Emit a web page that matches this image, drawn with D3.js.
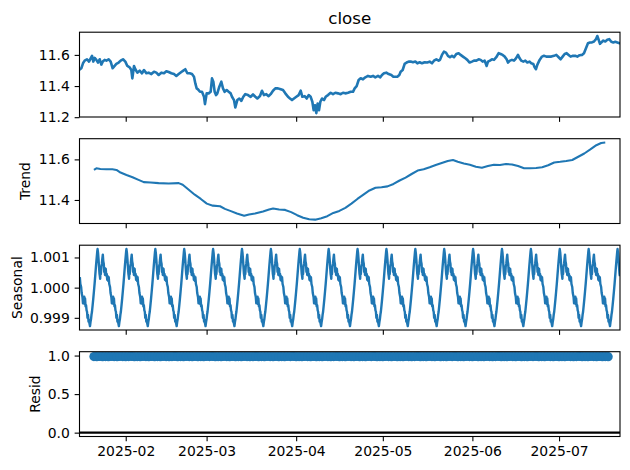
<!DOCTYPE html>
<html><head><meta charset="utf-8">
<script src="https://cdn.jsdelivr.net/npm/d3@7"></script>
<style>body{margin:0;background:#fff}svg{display:block}text{font-family:"DejaVu Sans",sans-serif;fill:#000}</style>
</head><body><svg id="c" width="630" height="470"></svg>
<script>
// ---- data ----
const startDate = "2025-01-16T00:00:00Z";
const endDay = 187.1;
const closeDays = [0,0.63,1.21,1.79,2.60,3.29,3.87,4.33,4.79,5.25,5.83,6.40,6.98,7.56,8.13,8.71,9.29,10.10,10.79,11.48,11.94,12.75,13.56,14.25,15.06,15.87,16.56,17.37,17.94,18.29,18.87,19.33,20.02,20.83,21.63,22.33,23.13,23.94,24.87,25.79,26.60,27.40,28.33,29.25,30.06,30.87,31.79,32.71,33.52,34.33,35.25,35.94,36.63,37.33,38.13,38.94,39.63,40.10,40.56,41.02,41.71,42.40,43.10,43.44,44.02,44.71,45.40,45.87,46.33,46.79,47.25,47.71,48.40,49.10,49.67,50.25,50.94,51.63,52.33,52.79,53.48,53.94,54.63,55.33,56.02,56.71,57.40,58.33,59.25,60.06,60.87,61.56,62.48,
63.17,63.87,64.67,65.48,66.17,66.98,67.79,68.71,69.64,70.44,71.25,72.17,72.87,73.56,74.25,75.06,75.87,76.56,77.14,77.94,78.64,79.33,80.02,80.60,81.06,81.52,81.98,82.44,82.90,83.37,83.94,84.64,85.21,86.02,86.94,87.75,88.56,89.48,90.40,91.21,92.02,92.94,93.87,94.67,95.25,95.94,96.63,97.33,98.13,98.94,99.87,100.79,101.60,102.40,103.33,104.13,104.71,105.40,106.21,107.02,107.94,108.64,109.33,110.02,110.71,111.17,111.87,112.56,113.25,113.94,114.64,115.44,116.25,116.94,117.75,118.56,119.48,120.40,121.21,122.02,122.71,123.52,124.33,124.79,
125.47,126.17,126.86,127.55,128.24,128.94,129.63,130.44,131.24,131.94,132.74,133.55,134.24,135.05,135.86,136.55,137.36,138.17,138.86,139.55,140.24,140.94,141.40,142.09,142.78,143.47,144.28,145.09,145.78,146.47,147.17,147.86,148.32,149.01,149.70,150.40,151.09,151.78,152.36,152.94,153.63,154.32,155.01,155.82,156.40,157.09,157.55,158.01,158.47,159.28,160.09,160.78,161.59,162.40,163.32,164.24,165.05,165.86,166.55,167.24,167.94,168.63,169.32,170.01,170.82,171.63,172.32,173.13,173.94,174.63,175.32,176.01,176.71,177.40,178.09,178.78,179.24,179.71,180.17,180.63,181.32,182.01,182.71,183.40,184.09,184.78,185.47,186.17,186.98,187.10];
const closeValues = [11.505,11.514,11.546,11.563,11.572,11.557,11.578,11.594,11.557,11.581,11.568,11.551,11.572,11.538,11.559,11.568,11.563,11.572,11.557,11.514,11.525,11.542,11.551,11.563,11.572,11.557,11.529,11.520,11.503,11.449,11.529,11.508,11.486,11.499,11.482,11.503,11.482,11.486,11.477,11.492,11.486,11.471,11.486,11.482,11.495,11.490,11.482,11.477,11.465,11.477,11.490,11.499,11.508,11.482,11.482,11.477,11.460,11.417,11.385,11.379,11.363,11.363,11.331,11.284,11.353,11.353,11.363,11.449,11.428,11.363,11.342,11.353,11.396,11.428,11.385,11.363,11.374,11.363,11.353,11.331,11.310,11.262,11.310,11.320,11.305,11.331,11.348,11.342,11.331,11.346,11.331,11.320,11.336,
11.370,11.342,11.348,11.335,11.348,11.370,11.385,11.385,11.379,11.374,11.353,11.331,11.320,11.310,11.320,11.331,11.342,11.370,11.331,11.335,11.320,11.342,11.331,11.299,11.245,11.277,11.226,11.288,11.245,11.299,11.320,11.310,11.331,11.342,11.357,11.348,11.357,11.353,11.348,11.357,11.353,11.357,11.363,11.363,11.385,11.400,11.439,11.450,11.443,11.456,11.465,11.460,11.465,11.456,11.465,11.456,11.471,11.482,11.486,11.477,11.471,11.460,11.460,11.460,11.471,11.492,11.503,11.542,11.551,11.557,11.557,11.553,11.557,11.546,11.553,11.546,11.553,11.551,11.557,11.546,11.563,11.572,11.563,11.568,
11.600,11.621,11.615,11.594,11.585,11.594,11.585,11.606,11.611,11.600,11.589,11.578,11.568,11.551,11.557,11.563,11.563,11.572,11.568,11.557,11.563,11.529,11.557,11.563,11.572,11.568,11.585,11.611,11.606,11.600,11.589,11.572,11.551,11.563,11.568,11.563,11.578,11.600,11.578,11.563,11.557,11.563,11.551,11.557,11.546,11.542,11.520,11.508,11.536,11.568,11.589,11.594,11.589,11.589,11.589,11.594,11.600,11.585,11.572,11.589,11.606,11.611,11.600,11.589,11.594,11.594,11.589,11.598,11.600,11.611,11.643,11.675,11.680,11.680,11.686,11.701,11.721,11.697,11.671,11.680,11.692,11.686,11.697,11.701,11.684,11.680,11.684,11.680,11.675,11.676];

const trendDays = [5.0,5.85,7.24,9.32,11.40,12.80,14.19,16.27,18.36,20.44,22.25,24.61,27.39,30.87,34.34,35.73,37.82,39.90,41.99,44.07,46.16,48.66,50.33,52.41,54.50,57.00,58.67,60.75,63.53,65.62,67.01,69.09,71.18,73.26,75.35,77.43,79.52,81.60,83.69,85.78,87.86,89.95,92.03,94.12,96.20,98.29,100.37,102.46,104.54,106.63,108.71,110.80,112.88,114.97,117.05,119.14,121.22,123.31,125.39,127.48,129.28,130.95,133.04,135.12,137.21,139.29,141.38,143.46,145.55,147.63,149.72,151.81,153.89,155.98,158.06,160.15,162.23,164.32,166.40,168.49,170.57,172.66,174.74,176.83,178.91,180.58,182.0];
const trendValues = [11.548,11.556,11.553,11.551,11.551,11.548,11.535,11.523,11.512,11.499,11.488,11.486,11.483,11.481,11.483,11.475,11.450,11.426,11.405,11.382,11.372,11.369,11.356,11.345,11.333,11.322,11.328,11.333,11.343,11.353,11.358,11.353,11.351,11.340,11.325,11.312,11.305,11.303,11.310,11.320,11.336,11.346,11.361,11.382,11.405,11.426,11.447,11.460,11.463,11.467,11.479,11.496,11.510,11.528,11.545,11.551,11.561,11.572,11.582,11.592,11.597,11.588,11.580,11.574,11.564,11.559,11.567,11.574,11.572,11.577,11.575,11.567,11.556,11.556,11.558,11.561,11.571,11.585,11.588,11.592,11.597,11.613,11.629,11.649,11.670,11.681,11.683];

// one seasonal cycle (days after the main peak) — the component repeats every period
const seasonalPeriod = 10;
const seasonalFirstPeak = 6.25;
const seasonalCycleOffsets = [0,0.17,0.34,0.50,0.68,0.80,0.91,1.02,1.14,1.30,1.48,1.65,1.82,1.98,2.16,2.30,2.42,2.58,2.72,2.84,3.00,3.18,3.35,3.52,3.68,3.86,4.05,4.32,4.50,4.77,4.95,5.10,5.23,5.40,5.55,5.68,5.85,6.02,6.20,6.36,6.52,6.70,6.88,7.05,7.22,7.39,7.56,7.73,7.90,8.07,8.30,8.52,8.75,8.98,9.20,9.43,9.60,9.77,9.90];
const seasonalCycleValues = [1.001279,1.001150,1.000950,1.000700,1.000458,1.000380,1.000294,1.000560,1.000450,1.000700,1.000786,1.000950,1.001092,1.000880,1.000786,1.000520,1.000650,1.000420,1.000600,1.000622,1.000400,1.000458,1.000260,1.000380,1.000220,1.000349,1.000120,1.000021,0.999820,0.999693,0.999480,0.999620,0.999529,0.999700,0.999450,0.999638,0.999380,0.999420,0.999250,0.999201,0.999000,0.999092,0.998870,0.998928,0.998800,0.998724,0.998860,0.998950,0.999100,0.999201,0.999420,0.999638,0.999880,1.000130,1.000400,1.000677,1.000880,1.001059,1.001200];

const residStartDay = 5;
const residValues = [0.987,0.985,0.988,0.986,0.987,0.985,0.988,0.987,0.986,0.988,
0.987,0.985,0.987,0.989,0.986,0.987,0.985,0.988,0.987,0.986,
0.988,0.985,0.987,0.986,0.988,0.987,0.985,0.987,0.989,0.986,
0.987,0.985,0.988,0.987,0.986,0.988,0.985,0.987,0.986,0.988,
0.987,0.989,0.986,0.987,0.985,0.988,0.987,0.986,0.988,0.985,
0.987,0.986,0.988,0.987,0.985,0.987,0.989,0.986,0.987,0.985,
0.988,0.987,0.986,0.988,0.985,0.987,0.986,0.988,0.987,0.989,
0.986,0.987,0.985,0.988,0.987,0.986,0.988,0.985,0.987,0.986,
0.988,0.987,0.985,0.987,0.989,0.986,0.987,0.985,0.988,0.987,
0.986,0.988,0.985,0.987,0.986,0.988,0.987,0.989,0.986,0.987,
0.985,0.988,0.987,0.986,0.988,0.985,0.987,0.986,0.988,0.987,
0.985,0.987,0.989,0.986,0.987,0.985,0.988,0.987,0.986,0.988,
0.985,0.987,0.986,0.988,0.987,0.989,0.986,0.987,0.985,0.988,
0.987,0.986,0.988,0.985,0.987,0.986,0.988,0.987,0.985,0.987,
0.989,0.986,0.987,0.985,0.988,0.987,0.986,0.988,0.985,0.987,
0.986,0.988,0.987,0.989,0.986,0.987,0.985,0.988,0.987,0.986,
0.988,0.985,0.987,0.986,0.988,0.987,0.985,0.987,0.989,0.986,
0.987,0.985,0.988,0.987,0.986,0.988,0.985,0.987,0.986];

const closeTicks = [11.2, 11.4, 11.6];
const trendTicks = [11.4, 11.6];
const seasonalTicks = [0.999, 1.000, 1.001];
const residTicks = [0.0, 0.5, 1.0];

// ---- build ----
const t0 = new Date(startDate).getTime();
const toDate = d => new Date(t0 + d * 864e5);
const zip = (a, b) => a.slice(0, Math.min(a.length, b.length)).map((d, i) => ({date: toDate(d), value: b[i]}));
const closeData = zip(closeDays, closeValues);
const trendData = zip(trendDays, trendValues);
const seasonalData = [];
for (let k = -1; k * seasonalPeriod + seasonalFirstPeak <= endDay; k++) {
  seasonalCycleOffsets.forEach((o, i) => {
    const d = seasonalFirstPeak + k * seasonalPeriod + o;
    if (d >= 0 && d <= endDay) seasonalData.push({date: toDate(d), value: seasonalCycleValues[i]});
  });
}
const residData = residValues.map((v, i) => ({date: toDate(residStartDay + i), value: v}));

const svg = d3.select("#c");
const L = 79.5, R = 620, PH = 84.8;
const tops = [32.2, 138.7, 245.2, 351.7];
const blue = "#1f77b4";
const x = d3.scaleUtc().domain([toDate(0), toDate(endDay)]).range([L, R]);
const pad = ext => { const r = ext[1] - ext[0]; return [ext[0] - 0.05 * r, ext[1] + 0.05 * r]; };
const xTicks = x.ticks(d3.utcMonth.every(1));

function panel(i, data, ticks, fmt, label, labelX, kind, lw) {
  const top = tops[i], bot = top + PH;
  let ext = d3.extent(data, d => d.value);
  if (kind === "dots") ext = [Math.min(0, ext[0]), 1.0];
  const y = d3.scaleLinear().domain(pad(ext)).range([bot, top]);
  const g = svg.append("g");
  const cid = "clip" + i;
  svg.append("clipPath").attr("id", cid).append("rect").attr("x", L).attr("y", top).attr("width", R - L).attr("height", PH);
  const plot = g.append("g").attr("clip-path", `url(#${cid})`);
  if (kind === "line") {
    plot.append("path").datum(data).attr("fill", "none").attr("stroke", blue).attr("stroke-width", lw)
      .attr("stroke-linejoin", "round")
      .attr("d", d3.line().x(d => x(d.date)).y(d => y(d.value)));
  } else {
    plot.append("line").attr("x1", L).attr("x2", R).attr("y1", y(0)).attr("y2", y(0)).attr("stroke", "#000").attr("stroke-width", 2.08);
    plot.selectAll("circle").data(data).join("circle").attr("cx", d => x(d.date)).attr("cy", d => y(d.value)).attr("r", 4.6).attr("fill", blue);
  }
  // y axis
  const ya = g.append("g").attr("transform", `translate(${L},0)`)
    .call(d3.axisLeft(y).tickValues(ticks).tickFormat(fmt).tickSize(4.86).tickPadding(4.86));
  ya.select(".domain").remove();
  ya.selectAll("line").attr("stroke", "#000").attr("stroke-width", 1.1);
  ya.selectAll("text").attr("font-size", "13.9px").attr("font-family", "DejaVu Sans").attr("fill", "#000");
  // x axis
  const xa = g.append("g").attr("transform", `translate(0,${bot})`)
    .call(d3.axisBottom(x).tickValues(xTicks).tickFormat(i === 3 ? d3.utcFormat("%Y-%m") : () => "").tickSize(4.86).tickPadding(4.86));
  xa.select(".domain").remove();
  xa.selectAll("line").attr("stroke", "#000").attr("stroke-width", 1.1);
  xa.selectAll("text").attr("font-size", "13.9px").attr("font-family", "DejaVu Sans").attr("fill", "#000");
  // frame
  g.append("rect").attr("x", L).attr("y", top).attr("width", R - L).attr("height", PH)
    .attr("fill", "none").attr("stroke", "#000").attr("stroke-width", 1.1);
  if (label) {
    g.append("text").attr("transform", `translate(${labelX},${top + PH / 2}) rotate(-90)`)
      .attr("text-anchor", "middle").attr("dominant-baseline", "central").attr("font-size", "13.9px").text(label);
  }
}

panel(0, closeData, closeTicks, d3.format(".1f"), null, 0, "line", 2.6);
panel(1, trendData, trendTicks, d3.format(".1f"), "Trend", 25, "line", 2.08);
panel(2, seasonalData, seasonalTicks, d3.format(".3f"), "Seasonal", 16.5, "line", 2.4);
panel(3, residData, residTicks, d3.format(".1f"), "Resid", 34.5, "dots", 0);

svg.append("text").attr("x", (L + R) / 2).attr("y", 24).attr("text-anchor", "middle").attr("font-size", "16.7px").text("close");
</script></body></html>
